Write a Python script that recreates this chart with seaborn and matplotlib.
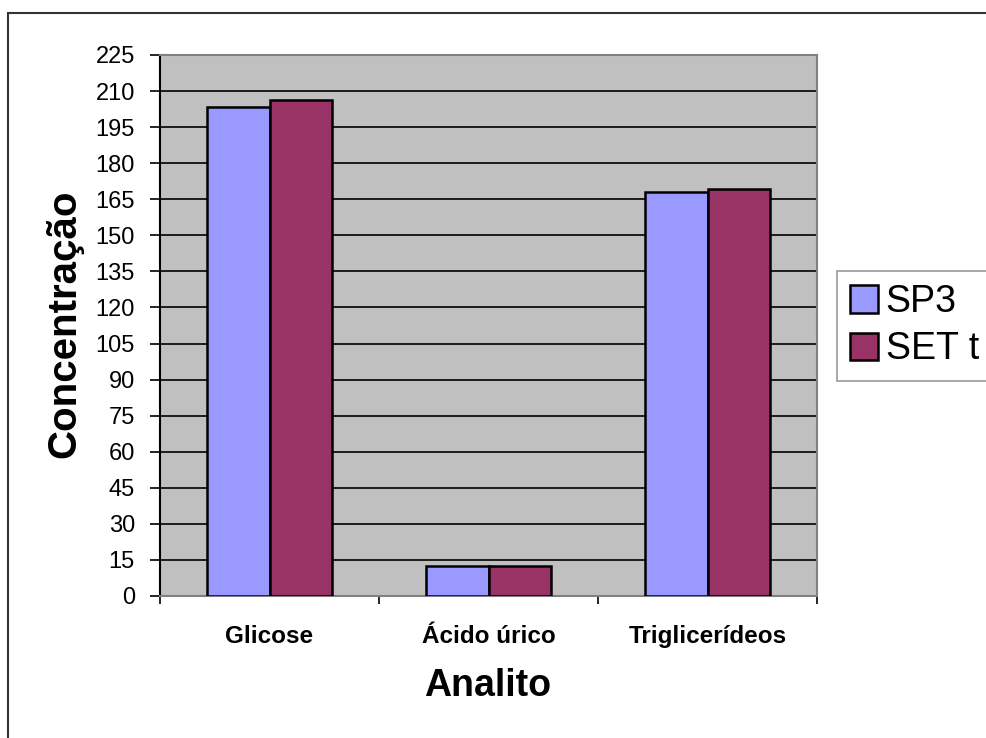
import matplotlib
matplotlib.use("Agg")
import matplotlib.pyplot as plt
import seaborn as sns
import pandas as pd
from matplotlib.patches import Rectangle, Patch
from matplotlib.ticker import FixedLocator

categories = ["Glicose", "Ácido úrico", "Triglicerídeos"]
series_names = ["SP3", "SET t"]
sp3_values = [203.5, 12.3, 167.9]
sett_values = [206.3, 12.3, 169.2]
y_ticks = list(range(0, 226, 15))

df = pd.DataFrame({
    "Analito": categories * 2,
    "Série": [series_names[0]] * 3 + [series_names[1]] * 3,
    "Concentração": sp3_values + sett_values,
})

sns.set_theme(style="white")
plt.rcParams["font.family"] = ["Liberation Sans", "DejaVu Sans"]
plt.rcParams["text.color"] = "black"
plt.rcParams["xtick.color"] = "black"
plt.rcParams["ytick.color"] = "black"
plt.rcParams["axes.labelcolor"] = "black"

W, H = 986, 738
fig = plt.figure(figsize=(W / 100, H / 100), dpi=100)
ax = fig.add_axes([160 / W, 1 - 596 / H, (817 - 160) / W, (596 - 55) / H])

colors = {"SP3": "#9999FF", "SET t": "#993366"}
sns.barplot(data=df, x="Analito", y="Concentração", hue="Série",
            palette=colors, saturation=1, width=0.57, edgecolor="black",
            linewidth=1.8, ax=ax, legend=False, errorbar=None, zorder=3)

ax.set_facecolor("#C0C0C0")
ax.set_ylim(0, 225)
ax.set_xlim(-0.5, 2.5)
ax.yaxis.set_major_locator(FixedLocator(y_ticks))
ax.grid(axis="y", color="black", linewidth=1.2, zorder=0)
ax.set_axisbelow(True)
ax.tick_params(axis="y", direction="out", length=7, width=1.2, color="black",
               pad=11, labelsize=17, left=True, labelcolor="black")
ax.set_xticks([0, 1, 2])
ax.set_xticklabels(categories, fontsize=17.5, fontweight="bold", color="black")
ax.tick_params(axis="x", which="major", length=0, pad=21)
ax.xaxis.set_minor_locator(FixedLocator([-0.5, 0.5, 1.5, 2.5]))
ax.tick_params(axis="x", which="minor", direction="out", length=6, width=1.2,
               color="black", bottom=True)
ax.set_xlabel("")
ax.set_ylabel("")
for s in ["top", "right", "bottom"]:
    ax.spines[s].set_color("#808080")
    ax.spines[s].set_linewidth(1.5)
ax.spines["left"].set_color("black")
ax.spines["left"].set_linewidth(1.5)

fig.text(488 / W, 1 - 686 / H, "Analito", fontsize=27, fontweight="bold",
         ha="center", va="center", color="black")
fig.text(64 / W, 1 - 324 / H, "Concentração", fontsize=29, fontweight="bold",
         ha="center", va="center", rotation=90, color="black")

handles = [Patch(facecolor=colors[n], edgecolor="black", linewidth=1.8)
           for n in series_names]
leg = fig.legend(handles, series_names, loc="upper left",
                 bbox_to_anchor=(837 / W, 1 - 271 / H), fontsize=27,
                 frameon=True, fancybox=False, handlelength=0.75,
                 handleheight=0.75, handletextpad=0.2, labelspacing=0.3,
                 borderpad=0.35, borderaxespad=0)
leg.get_frame().set_edgecolor("#808080")
leg.get_frame().set_linewidth(1.2)
for t in leg.get_texts():
    t.set_color("black")

fig.patches.append(Rectangle((8 / W, -0.1), 1.2, 1 - 13 / H + 0.1,
                             transform=fig.transFigure, fill=False,
                             edgecolor="#333333", linewidth=1.5))

fig.savefig("out.png", dpi=100)
